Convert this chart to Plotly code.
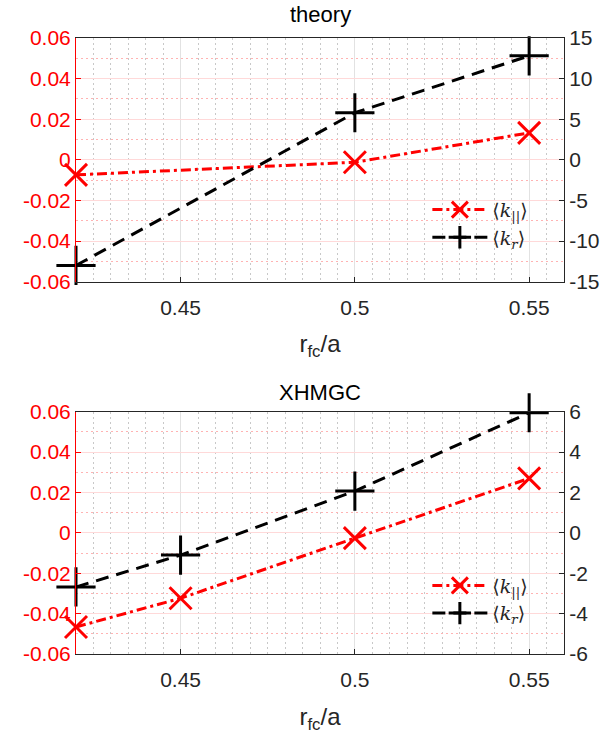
import plotly.graph_objects as go

# ---- data ----
x_theory = [0.42, 0.50, 0.55]
kpar_theory = [-0.0074, -0.0012, 0.0133]
kr_theory = [-13.0, 5.8, 12.8]

x_xhmgc = [0.42, 0.45, 0.50, 0.55]
kpar_xhmgc = [-0.0466, -0.0324, -0.0026, 0.0270]
kr_xhmgc = [-2.68, -1.10, 2.07, 5.95]

x_ticks = [0.45, 0.50, 0.55]
x_ticktext = ["0.45", "0.5", "0.55"]
left_ticks = [-0.06, -0.04, -0.02, 0.0, 0.02, 0.04, 0.06]
left_ticktext = ["-0.06", "-0.04", "-0.02", "0", "0.02", "0.04", "0.06"]
right_ticks_top = [-15, -10, -5, 0, 5, 10, 15]
right_ticks_bot = [-6, -4, -2, 0, 2, 4, 6]

titles = ["theory", "XHMGC"]
xlabel = "r<sub>fc</sub>/a"
name_par = "\u27e8<i>k</i><sub>||</sub>\u27e9"
name_r = "\u27e8<i>k<sub>r</sub></i>\u27e9"

RED = "#ff0000"
FONT = "Liberation Sans, Arial, sans-serif"

fig = go.Figure()

def add_panel(x, kpar, kr, xa, ya, ya2, legend):
    fig.add_trace(go.Scatter(
        x=x, y=kpar, xaxis=xa, yaxis=ya, name=name_par, legend=legend,
        mode="lines+markers", cliponaxis=False,
        line=dict(color=RED, width=3, dash="10px,4px,3px,4px"),
        marker=dict(symbol="x-thin-open", size=22, color=RED,
                    line=dict(color=RED, width=3))))
    fig.add_trace(go.Scatter(
        x=x, y=kr, xaxis=xa, yaxis=ya2, name=name_r, legend=legend,
        mode="lines+markers", cliponaxis=False,
        line=dict(color="black", width=3, dash="13px,8px"),
        marker=dict(symbol="cross-thin-open", size=28, color="black",
                    line=dict(color="black", width=3))))

add_panel(x_theory, kpar_theory, kr_theory, "x", "y", "y2", "legend")
add_panel(x_xhmgc, kpar_xhmgc, kr_xhmgc, "x2", "y3", "y4", "legend2")

top_dom = [0.6044, 1.0]
bot_dom = [0.0, 0.3933]

def xaxis_cfg(anchor):
    return dict(
        domain=[0, 1], anchor=anchor, range=[0.42, 0.56],
        tickvals=x_ticks, ticktext=x_ticktext,
        showline=True, linecolor="#262626", linewidth=1, mirror=True,
        ticks="inside", ticklen=5, tickcolor="#262626",
        tickfont=dict(family=FONT, size=21, color="#262626"),
        ticklabelstandoff=7,
        showgrid=True, gridcolor="#e2e2e2", gridwidth=1,
        minor=dict(dtick=0.005, tick0=0.42, showgrid=True, gridcolor="#c8c8c8",
                   griddash="2px,3px", gridwidth=1),
        zeroline=False,
        title=dict(text=xlabel, font=dict(family=FONT, size=24, color="#262626"),
                   standoff=17),
    )

def yleft_cfg(anchor, dom):
    return dict(
        domain=dom, anchor=anchor, range=[-0.06, 0.06],
        tickvals=left_ticks, ticktext=left_ticktext,
        showline=True, linecolor=RED, linewidth=1,
        ticks="inside", ticklen=5, tickcolor=RED,
        tickfont=dict(family=FONT, size=21, color=RED),
        showgrid=True, gridcolor="#ffd9d9", gridwidth=1,
        minor=dict(dtick=0.01, tick0=-0.06, showgrid=True, gridcolor="#ffb3b3",
                   griddash="2px,3px", gridwidth=1),
        zeroline=False,
    )

def yright_cfg(anchor, overlay, rng, ticks):
    return dict(
        anchor=anchor, overlaying=overlay, side="right", range=rng,
        tickvals=ticks, ticktext=[str(t) for t in ticks],
        showline=True, linecolor="#262626", linewidth=1,
        ticks="inside", ticklen=5, tickcolor="#262626",
        tickfont=dict(family=FONT, size=21, color="#262626"),
        showgrid=False, zeroline=False,
    )

legend_common = dict(
    bgcolor="rgba(0,0,0,0)", borderwidth=0,
    font=dict(family="DejaVu Serif, Liberation Serif, serif", size=19, color="#262626"),
    xanchor="left", yanchor="top", itemwidth=55, tracegroupgap=0,
)

fig.update_layout(
    width=611, height=740,
    margin=dict(l=76, r=47, t=38, b=86),
    paper_bgcolor="white", plot_bgcolor="white",
    showlegend=True,
    xaxis=xaxis_cfg("y"),
    yaxis=yleft_cfg("x", top_dom),
    yaxis2=yright_cfg("x", "y", [-15, 15], right_ticks_top),
    xaxis2=xaxis_cfg("y3"),
    yaxis3=yleft_cfg("x2", bot_dom),
    yaxis4=yright_cfg("x2", "y3", [-6, 6], right_ticks_bot),
    legend=dict(x=0.72, y=0.752, **legend_common),
    legend2=dict(x=0.72, y=0.142, **legend_common),
    annotations=[
        dict(text=titles[0], xref="paper", yref="paper", x=0.5, y=1.0 + 23 / 616,
             xanchor="center", yanchor="middle", showarrow=False,
             font=dict(family=FONT, size=22, color="black")),
        dict(text=titles[1], xref="paper", yref="paper", x=0.5, y=(654 - 392) / 616,
             xanchor="center", yanchor="middle", showarrow=False,
             font=dict(family=FONT, size=22, color="black")),
    ],
)

fig.write_html("out.html")
